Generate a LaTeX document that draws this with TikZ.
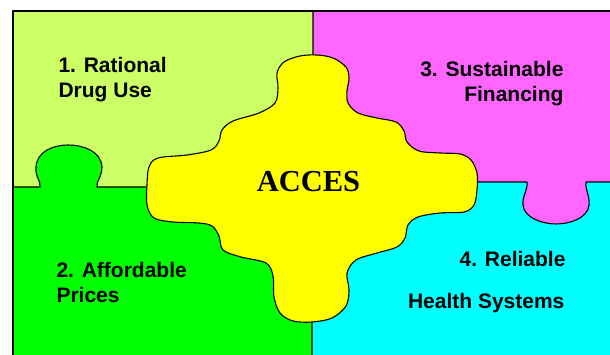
\documentclass[tikz,border=0pt]{standalone}
\usepackage{fontspec}
\setmainfont{Liberation Sans}
\newfontfamily\serifface{Liberation Serif}
\definecolor{lgreen}{HTML}{CCFF66}
\definecolor{dgreen}{HTML}{00FF00}
\definecolor{pmag}{HTML}{FF66FF}
\definecolor{pcyan}{HTML}{00FFFF}
\definecolor{pyel}{HTML}{FFFF00}
\begin{document}
\begin{tikzpicture}[x=1pt,y=-1pt,line width=1.1pt,line join=round,
  piece/.style={draw=black},
  lab/.style={font=\fontsize{21}{25}\selectfont\bfseries,inner sep=0pt},
  title/.style={font=\serifface\fontsize{30.5}{34}\selectfont\bfseries,inner sep=0pt}]
\useasboundingbox (0,0) rectangle (610,355);
\begin{scope}
\clip (0,0) rectangle (610,355);
% light green piece (1)
\fill[lgreen] (13,11) rectangle (313,187);
% cyan piece (4)
\fill[pcyan] (312,182) rectangle (620,365);
% green piece (2) with tab up
\path[piece,fill=dgreen] (13,187) -- (40,187)
  .. controls (41,181) and (35,177) .. (36,167)
  .. controls (37,151) and (54,145) .. (68,145)
  .. controls (83,145) and (101,151) .. (102,167)
  .. controls (102,177) and (96,181) .. (97,187)
  -- (312,187) -- (312,365) -- (13,365) -- cycle;
% magenta piece (3) with tab down
\path[piece,fill=pmag] (313,11) -- (620,11) -- (620,182) -- (586,182)
  .. controls (585,190) and (590,196) .. (589,205)
  .. controls (588,218) and (570,224) .. (556,224)
  .. controls (543,224) and (524,218) .. (523,205)
  .. controls (522,196) and (528,190) .. (527,182)
  -- (313,182) -- cycle;
% yellow central piece
\path[piece,fill=pyel] plot[smooth cycle,tension=0.55] coordinates {
 (317,55) (333,58) (346,67) (349,78) (347,91) (348,103) (358,113) (377,118)
 (396,122) (404,131) (407,142) (419,151) (440,153) (460,154) (471,160)
 (477,173) (477,190) (474,205) (464,212) (440,213) (418,217) (408,225)
 (405,238) (397,247) (377,253) (356,260) (347,273) (349,290) (346,306)
 (332,318) (312,322) (293,321) (280,313) (274,297) (273,276) (266,263)
 (241,257) (223,250) (219,236) (212,226) (199,223) (173,222) (154,218)
 (147,205) (147,185) (149,167) (158,158) (187,155) (211,150) (219,141)
 (222,130) (233,121) (259,113) (275,103) (278,88) (277,73) (284,62) (300,56)};
% outer frame
\draw (13,11) rectangle (620,365);
\end{scope}
% labels
\node[lab,anchor=base west] (t1a) at (58,73) {1. Rational};
\node[lab,anchor=base west] (t1b) at (58,98) {Drug Use};
\node[lab,anchor=base west] (t2a) at (56,277) {2. Affordable};
\node[lab,anchor=base west] (t2b) at (56,302) {Prices};
\node[lab,anchor=base east] (t3a) at (564,77) {3. Sustainable};
\node[lab,anchor=base east] (t3b) at (564,102) {Financing};
\node[lab,anchor=base east] (t4a) at (566,267) {4. Reliable};
\node[lab,anchor=base east] (t4b) at (565,308) {Health Systems};
\node[title,anchor=base] (acc) at (308.5,192) {ACCES};
\end{tikzpicture}
\end{document}
